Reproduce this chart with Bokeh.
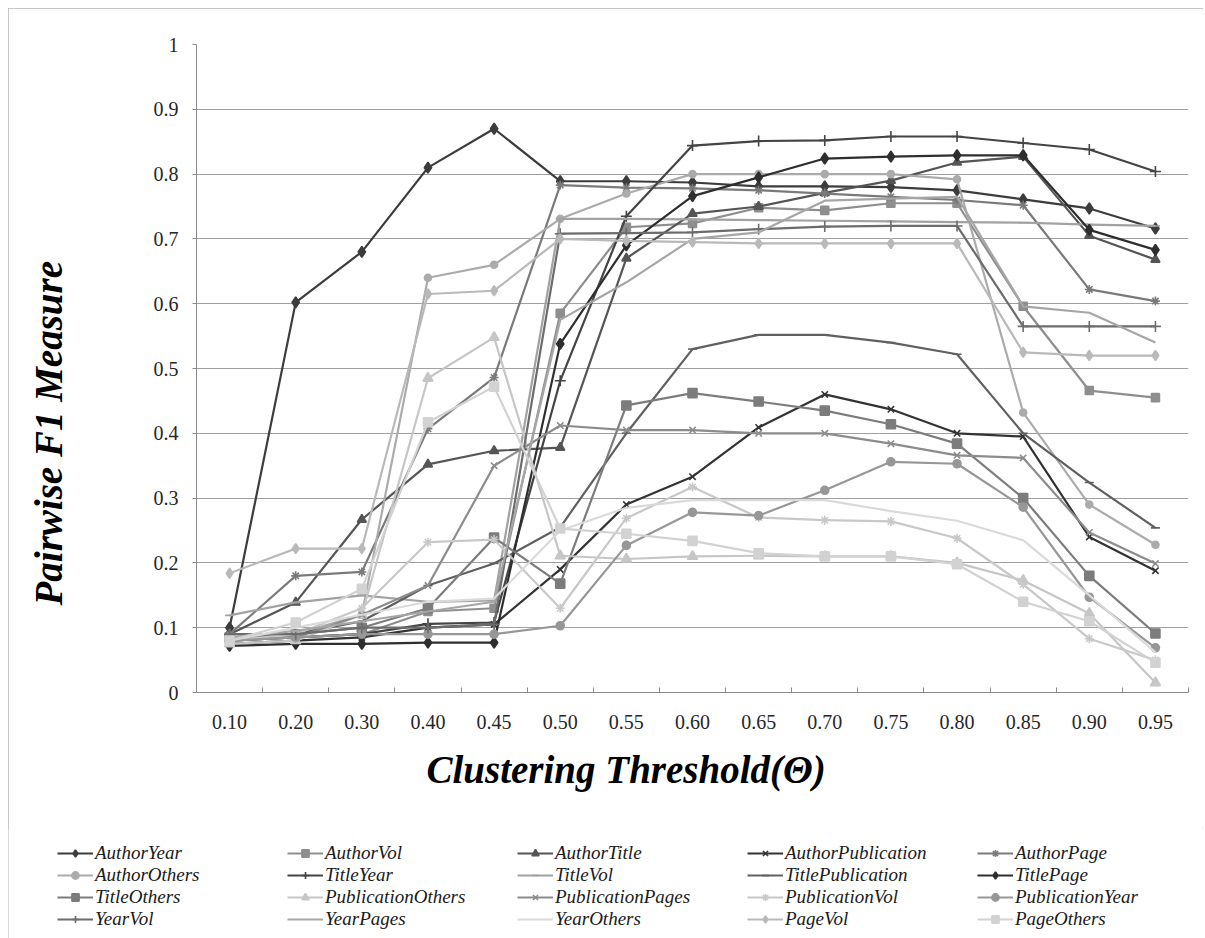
import math
from bokeh.plotting import figure
from bokeh.layouts import column
from bokeh.models import (FactorRange, Range1d, FixedTicker, LinearAxis, Legend,
                          LegendItem, Title)
from bokeh.embed import file_html
from bokeh.resources import INLINE

thresholds = ["0.10", "0.20", "0.30", "0.40", "0.45", "0.50", "0.55", "0.60",
              "0.65", "0.70", "0.75", "0.80", "0.85", "0.90", "0.95"]

author_year = [0.100, 0.602, 0.680, 0.810, 0.870, 0.789, 0.789, 0.787, 0.781, 0.781, 0.780, 0.775, 0.761, 0.747, 0.716]
author_vol = [0.080, 0.085, 0.090, 0.125, 0.130, 0.585, 0.718, 0.724, 0.748, 0.744, 0.755, 0.755, 0.596, 0.466, 0.455]
author_title = [0.090, 0.139, 0.267, 0.352, 0.373, 0.378, 0.670, 0.739, 0.750, 0.771, 0.790, 0.818, 0.827, 0.705, 0.668]
author_publication = [0.075, 0.080, 0.085, 0.100, 0.105, 0.190, 0.290, 0.333, 0.409, 0.460, 0.437, 0.400, 0.395, 0.240, 0.188]
author_page = [0.090, 0.180, 0.186, 0.407, 0.486, 0.783, 0.779, 0.778, 0.775, 0.770, 0.765, 0.760, 0.752, 0.622, 0.604]
author_others = [0.080, 0.090, 0.120, 0.640, 0.660, 0.731, 0.770, 0.800, 0.800, 0.800, 0.800, 0.792, 0.432, 0.290, 0.228]
title_year = [0.080, 0.085, 0.090, 0.106, 0.108, 0.481, 0.735, 0.844, 0.851, 0.852, 0.858, 0.858, 0.848, 0.838, 0.804]
title_vol = [0.119, 0.139, 0.150, 0.140, 0.142, 0.731, 0.731, 0.730, 0.729, 0.728, 0.727, 0.726, 0.725, 0.722, 0.720]
title_publication = [0.085, 0.090, 0.110, 0.165, 0.199, 0.255, 0.400, 0.530, 0.552, 0.552, 0.540, 0.522, 0.400, 0.324, 0.254]
title_page = [0.072, 0.075, 0.075, 0.077, 0.077, 0.538, 0.690, 0.766, 0.795, 0.824, 0.827, 0.829, 0.829, 0.714, 0.683]
title_others = [0.085, 0.090, 0.100, 0.130, 0.239, 0.168, 0.443, 0.462, 0.449, 0.435, 0.414, 0.384, 0.300, 0.180, 0.091]
publication_others = [0.075, 0.080, 0.120, 0.485, 0.548, 0.211, 0.206, 0.210, 0.211, 0.210, 0.210, 0.200, 0.173, 0.122, 0.015]
publication_pages = [0.080, 0.085, 0.120, 0.165, 0.350, 0.412, 0.405, 0.405, 0.400, 0.400, 0.384, 0.366, 0.362, 0.247, 0.199]
publication_vol = [0.080, 0.090, 0.130, 0.232, 0.236, 0.130, 0.269, 0.317, 0.270, 0.266, 0.264, 0.238, 0.167, 0.083, 0.050]
publication_year = [0.080, 0.085, 0.090, 0.090, 0.090, 0.103, 0.227, 0.278, 0.273, 0.312, 0.356, 0.353, 0.286, 0.147, 0.069]
year_vol = [0.090, 0.090, 0.100, 0.100, 0.105, 0.708, 0.709, 0.710, 0.715, 0.719, 0.720, 0.720, 0.565, 0.565, 0.565]
year_pages = [0.085, 0.095, 0.110, 0.125, 0.140, 0.575, 0.633, 0.700, 0.710, 0.759, 0.762, 0.765, 0.596, 0.586, 0.540]
year_others = [0.080, 0.100, 0.120, 0.140, 0.145, 0.250, 0.285, 0.297, 0.297, 0.297, 0.280, 0.265, 0.235, 0.150, 0.062]
page_vol = [0.184, 0.222, 0.222, 0.615, 0.620, 0.700, 0.697, 0.695, 0.693, 0.693, 0.693, 0.693, 0.525, 0.520, 0.520]
page_others = [0.080, 0.108, 0.160, 0.417, 0.472, 0.253, 0.245, 0.234, 0.215, 0.210, 0.210, 0.198, 0.140, 0.110, 0.046]

y_ticks = [0.0, 0.1, 0.2, 0.3, 0.4, 0.5, 0.6, 0.7, 0.8, 0.9, 1.0]
y_tick_labels = ["0", "0.1", "0.2", "0.3", "0.4", "0.5", "0.6", "0.7", "0.8", "0.9", "1"]

# (name, values, color, marker, marker size)
series = [
    ("AuthorYear", author_year, "#3c3c3c", "diamond", 11),
    ("AuthorVol", author_vol, "#8e8e8e", "square", 8),
    ("AuthorTitle", author_title, "#555555", "triangle", 9),
    ("AuthorPublication", author_publication, "#333333", "x", 9),
    ("AuthorPage", author_page, "#7a7a7a", "asterisk", 9),
    ("AuthorOthers", author_others, "#ababab", "circle", 7),
    ("TitleYear", title_year, "#444444", "cross", 11),
    ("TitleVol", title_vol, "#a2a2a2", "dash", 9),
    ("TitlePublication", title_publication, "#606060", "dash", 9),
    ("TitlePage", title_page, "#2e2e2e", "diamond", 11),
    ("TitleOthers", title_others, "#7c7c7c", "square", 9),
    ("PublicationOthers", publication_others, "#c6c6c6", "triangle", 10),
    ("PublicationPages", publication_pages, "#8c8c8c", "x", 9),
    ("PublicationVol", publication_vol, "#c8c8c8", "asterisk", 9),
    ("PublicationYear", publication_year, "#979797", "circle", 8),
    ("YearVol", year_vol, "#6c6c6c", "cross", 11),
    ("YearPages", year_pages, "#a6a6a6", None, 0),
    ("YearOthers", year_others, "#dadada", None, 0),
    ("PageVol", page_vol, "#b9b9b9", "diamond", 10),
    ("PageOthers", page_others, "#d2d2d2", "square", 9),
]

FONT = "Liberation Serif"
x_factors = FactorRange(factors=thresholds, range_padding=0)

# ---------------- main chart ----------------
p = figure(width=1195, height=820, x_range=x_factors, y_range=Range1d(0, 1),
           output_backend="svg", toolbar_location=None,
           min_border_left=188, min_border_right=15,
           min_border_top=36, min_border_bottom=136)
p.frame_align = False
p.outline_line_color = None
p.background_fill_color = "white"
p.border_fill_color = "white"

p.xgrid.grid_line_color = None
p.ygrid.ticker = FixedTicker(ticks=y_ticks)
p.ygrid.grid_line_color = "#a0a0a0"
p.ygrid.grid_line_width = 1

yax = p.yaxis[0]
yax.ticker = FixedTicker(ticks=y_ticks)
yax.major_label_overrides = {t: s for t, s in zip(y_ticks, y_tick_labels)}
yax.major_tick_out = 4
yax.major_tick_in = 0
yax.minor_tick_line_color = None
yax.axis_line_color = "#8a8a8a"
yax.major_tick_line_color = "#8a8a8a"
yax.major_label_standoff = 14
yax.major_label_text_font = FONT
yax.major_label_text_font_size = "20px"
yax.major_label_text_color = "#262626"

cat_axis = p.xaxis[0]
cat_axis.major_tick_line_color = None
cat_axis.major_tick_out = 0
cat_axis.major_tick_in = 0
cat_axis.axis_line_color = None
cat_axis.major_label_standoff = 22
cat_axis.major_label_text_font = FONT
cat_axis.major_label_text_font_size = "20px"
cat_axis.major_label_text_color = "#262626"

tick_axis = LinearAxis(ticker=FixedTicker(ticks=list(range(1, len(thresholds) + 1))),
                       major_label_text_font_size="1px", major_label_text_color=None,
                       major_label_standoff=0,
                       major_tick_in=5, major_tick_out=0,
                       minor_tick_line_color=None,
                       axis_line_color="#8a8a8a", major_tick_line_color="#8a8a8a")

for name, vals, color, marker, size in series:
    p.line(x=thresholds, y=vals, line_color=color, line_width=2.2, line_join="round")
    if marker is not None:
        p.scatter(x=thresholds, y=vals, marker=marker, size=size,
                  line_color=color, fill_color=color, line_width=1.6)

xtitle = Title(text="Clustering Threshold(\u0398)", align="left", offset=230,
               standoff=28, text_font=FONT, text_font_style="bold italic",
               text_font_size="39px", text_color="#000000")
p.below = [tick_axis, cat_axis, xtitle]

# spacer between the y axis labels and the y title
gap = Title(text=" ", text_font_size="1px", standoff=78)
ytitle = Title(text="Pairwise F1 Measure", align="left", offset=87,
               standoff=0, text_font=FONT, text_font_style="bold italic",
               text_font_size="39px", text_color="#000000")
p.left = [yax, gap, ytitle]

# ---------------- legend strip ----------------
lg = figure(width=1195, height=110, x_range=x_factors, y_range=Range1d(10, 11),
            output_backend="svg", toolbar_location=None,
            min_border=0, x_axis_location=None, y_axis_location=None)
lg.frame_align = False
lg.outline_line_color = None
lg.grid.grid_line_color = None
lg.background_fill_color = "white"
lg.border_fill_color = "white"

items = []
for name, vals, color, marker, size in series:
    rs = [lg.line(x=thresholds, y=vals, line_color=color, line_width=2.2)]
    if marker is not None:
        rs.append(lg.scatter(x=thresholds, y=vals, marker=marker, size=size,
                             line_color=color, fill_color=color, line_width=1.6))
    items.append(LegendItem(label=name, renderers=rs))

legend = Legend(items=items, orientation="horizontal", ncols=5,
                location=(49, 8),
                glyph_width=36, glyph_height=18, label_height=18,
                label_width=192, label_standoff=2, spacing=0,
                padding=0, margin=0, border_line_color=None,
                background_fill_alpha=0,
                label_text_font=FONT, label_text_font_style="italic",
                label_text_font_size="19px", label_text_color="#1a1a1a")
lg.add_layout(legend, "center")

layout = column(p, lg, spacing=0,
                styles={"margin": "8px 0 0 8px", "outline": "1px solid #b4b4b4",
                        "outline-offset": "-1px"})

open("out.html", "w").write(file_html(layout, INLINE))
